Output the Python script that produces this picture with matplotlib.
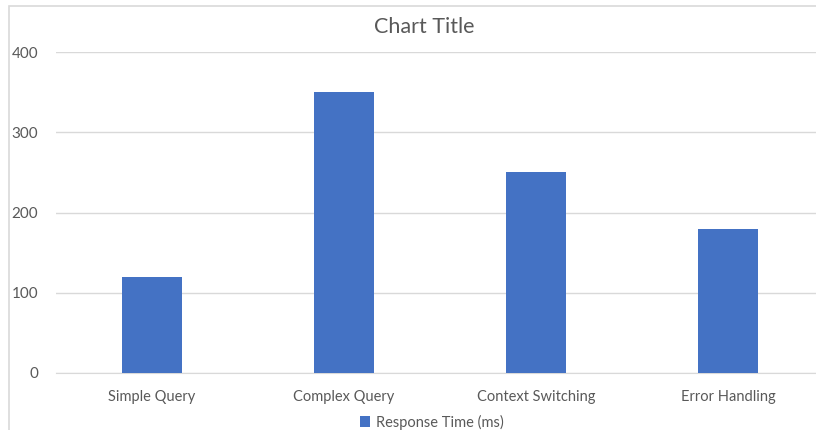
import matplotlib.pyplot as plt
from matplotlib.patches import Rectangle

categories = ['Simple Query', 'Complex Query', 'Context Switching', 'Error Handling']
response_ms = [120, 350, 250, 180]
series_name = 'Response Time (ms)'

plt.rcParams['font.family'] = ['Lato', 'DejaVu Sans']
grey = '#595959'

fig = plt.figure(figsize=(8.16, 4.3), dpi=100)
# chart border, runs off the right and bottom like the screenshot
fig.patches.append(Rectangle((9 / 816, -0.1), 1.2, 1 - 6 / 430 + 0.1, transform=fig.transFigure,
                             fill=False, edgecolor='#d9d9d9', linewidth=1.2))

ax = fig.add_axes([56 / 816, 57 / 430, 768 / 816, 321 / 430])
x = range(len(categories))
ax.bar(x, response_ms, width=0.31, color='#4472C4', label=series_name, zorder=3)

ax.set_xlim(-0.5, len(categories) - 0.5)
ax.set_ylim(0, 400)
ax.set_yticks([0, 100, 200, 300, 400])
ax.set_xticks(list(x))
ax.set_xticklabels(categories)
ax.yaxis.grid(True, color='#d9d9d9', linewidth=1, zorder=0)
for s in ['top', 'right', 'left']:
    ax.spines[s].set_visible(False)
ax.spines['bottom'].set_color('#d9d9d9')
ax.tick_params(axis='both', length=0, colors=grey, labelsize=10.5)
ax.tick_params(axis='y', pad=13, labelsize=11)
ax.tick_params(axis='x', pad=12)

fig.text(424 / 816, 1 - 27 / 430, 'Chart Title', ha='center', va='center', fontsize=15.5, color=grey)

fig.legend(loc='center', bbox_to_anchor=(432 / 816, 8 / 430), frameon=False, fontsize=10.5,
           labelcolor=grey, handlelength=0.7, handleheight=0.7, handletextpad=0.4)

fig.savefig('out.png', dpi=100)
